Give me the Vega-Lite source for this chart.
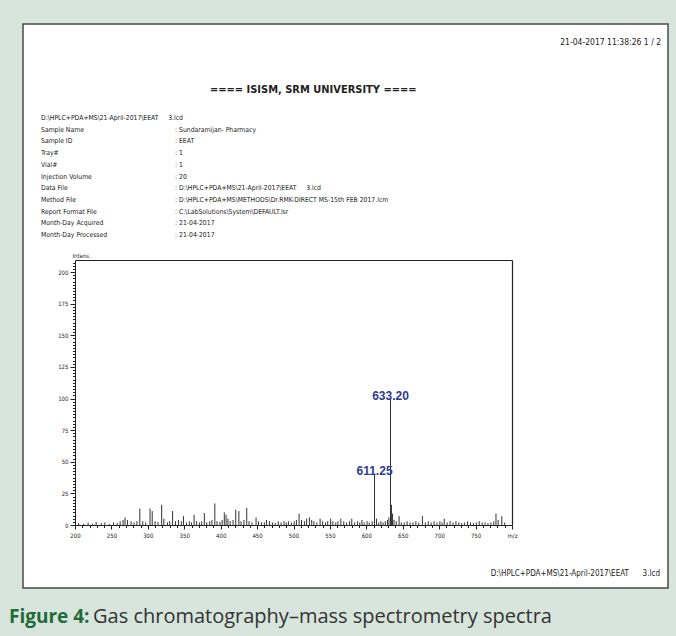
{
  "$schema": "https://vega.github.io/schema/vega-lite/v6.json",
  "width": 645,
  "height": 564,
  "autosize": "none",
  "padding": {"left": 23, "top": 24, "right": 8, "bottom": 48},
  "background": "#d7e5dc",
  "view": {"fill": "#ffffff", "fillOpacity": 1, "stroke": "#4a4a4a", "strokeWidth": 1.5},
  "config": {
    "view": {"fill": "#ffffff", "fillOpacity": 1, "stroke": "#4a4a4a", "strokeWidth": 1.5},
    "style": {"cell": {"fill": "#ffffff", "fillOpacity": 1}},
    "font": "DejaVu Sans Condensed, sans-serif"
  },
  "datasets": {
    "peaks": [
      {"mz": 205, "intensity": 1.5}, {"mz": 212, "intensity": 1}, {"mz": 218, "intensity": 2}, {"mz": 224, "intensity": 1},
      {"mz": 229, "intensity": 2.5}, {"mz": 236, "intensity": 1.5}, {"mz": 241, "intensity": 2}, {"mz": 247, "intensity": 1},
      {"mz": 253, "intensity": 2}, {"mz": 258, "intensity": 1.5}, {"mz": 262, "intensity": 3}, {"mz": 266, "intensity": 4},
      {"mz": 268.7, "intensity": 6}, {"mz": 272, "intensity": 4}, {"mz": 277, "intensity": 3}, {"mz": 281, "intensity": 2},
      {"mz": 285, "intensity": 3}, {"mz": 289, "intensity": 13}, {"mz": 293, "intensity": 3}, {"mz": 297, "intensity": 2},
      {"mz": 303, "intensity": 13}, {"mz": 306, "intensity": 11}, {"mz": 310, "intensity": 3}, {"mz": 314, "intensity": 2.5},
      {"mz": 319, "intensity": 16}, {"mz": 322, "intensity": 5}, {"mz": 327, "intensity": 2}, {"mz": 330, "intensity": 3},
      {"mz": 334, "intensity": 11}, {"mz": 338, "intensity": 3}, {"mz": 342, "intensity": 4}, {"mz": 346, "intensity": 3},
      {"mz": 349, "intensity": 7}, {"mz": 353, "intensity": 2}, {"mz": 357, "intensity": 3}, {"mz": 360, "intensity": 2},
      {"mz": 363.5, "intensity": 8}, {"mz": 367, "intensity": 3}, {"mz": 371, "intensity": 2}, {"mz": 374, "intensity": 3},
      {"mz": 377.6, "intensity": 9.5}, {"mz": 381, "intensity": 2}, {"mz": 385, "intensity": 3}, {"mz": 388, "intensity": 4},
      {"mz": 392, "intensity": 17}, {"mz": 395, "intensity": 3}, {"mz": 399, "intensity": 2.5}, {"mz": 402, "intensity": 4},
      {"mz": 405, "intensity": 10}, {"mz": 407.4, "intensity": 8}, {"mz": 410, "intensity": 5}, {"mz": 413, "intensity": 3},
      {"mz": 417, "intensity": 4}, {"mz": 420.7, "intensity": 12}, {"mz": 425, "intensity": 11}, {"mz": 428, "intensity": 3},
      {"mz": 432, "intensity": 4}, {"mz": 435.8, "intensity": 13.5}, {"mz": 439, "intensity": 3}, {"mz": 443, "intensity": 2},
      {"mz": 448.6, "intensity": 6}, {"mz": 452, "intensity": 3}, {"mz": 456, "intensity": 2}, {"mz": 460, "intensity": 2},
      {"mz": 463, "intensity": 4}, {"mz": 467, "intensity": 3}, {"mz": 471, "intensity": 2}, {"mz": 475, "intensity": 1.5},
      {"mz": 479, "intensity": 3}, {"mz": 483, "intensity": 2}, {"mz": 487, "intensity": 3}, {"mz": 490, "intensity": 2},
      {"mz": 493, "intensity": 3}, {"mz": 497, "intensity": 2}, {"mz": 501, "intensity": 3}, {"mz": 504, "intensity": 4},
      {"mz": 507.7, "intensity": 9}, {"mz": 511, "intensity": 4}, {"mz": 515, "intensity": 3}, {"mz": 518, "intensity": 5},
      {"mz": 521.8, "intensity": 6}, {"mz": 525, "intensity": 4}, {"mz": 528, "intensity": 3}, {"mz": 532, "intensity": 2},
      {"mz": 536.5, "intensity": 5}, {"mz": 540, "intensity": 3}, {"mz": 544, "intensity": 2}, {"mz": 547, "intensity": 3},
      {"mz": 551, "intensity": 5}, {"mz": 554, "intensity": 3}, {"mz": 558, "intensity": 2}, {"mz": 561, "intensity": 3},
      {"mz": 565, "intensity": 5}, {"mz": 569, "intensity": 3}, {"mz": 573, "intensity": 2}, {"mz": 577, "intensity": 3},
      {"mz": 580, "intensity": 5}, {"mz": 584, "intensity": 2}, {"mz": 588, "intensity": 3}, {"mz": 591, "intensity": 2},
      {"mz": 594, "intensity": 4}, {"mz": 597, "intensity": 2}, {"mz": 601, "intensity": 3}, {"mz": 604, "intensity": 2},
      {"mz": 608, "intensity": 3}, {"mz": 611.25, "intensity": 40}, {"mz": 614, "intensity": 5}, {"mz": 617, "intensity": 2},
      {"mz": 620, "intensity": 3}, {"mz": 623, "intensity": 2}, {"mz": 626, "intensity": 3}, {"mz": 629, "intensity": 4},
      {"mz": 631, "intensity": 6}, {"mz": 633.2, "intensity": 100}, {"mz": 634.5, "intensity": 16}, {"mz": 636, "intensity": 9},
      {"mz": 638, "intensity": 4}, {"mz": 641, "intensity": 3}, {"mz": 645, "intensity": 7}, {"mz": 648, "intensity": 2},
      {"mz": 652, "intensity": 2}, {"mz": 656, "intensity": 3}, {"mz": 660, "intensity": 2}, {"mz": 664, "intensity": 2},
      {"mz": 668, "intensity": 3}, {"mz": 672, "intensity": 2}, {"mz": 677, "intensity": 7}, {"mz": 681, "intensity": 2},
      {"mz": 685, "intensity": 3}, {"mz": 689, "intensity": 2}, {"mz": 693, "intensity": 3}, {"mz": 697, "intensity": 2},
      {"mz": 701, "intensity": 3}, {"mz": 704, "intensity": 2}, {"mz": 707, "intensity": 5}, {"mz": 711, "intensity": 2},
      {"mz": 715, "intensity": 3}, {"mz": 719, "intensity": 2}, {"mz": 723, "intensity": 3}, {"mz": 727, "intensity": 2},
      {"mz": 731, "intensity": 1.5}, {"mz": 735, "intensity": 2}, {"mz": 739, "intensity": 3}, {"mz": 743, "intensity": 2},
      {"mz": 747, "intensity": 1.5}, {"mz": 751, "intensity": 2}, {"mz": 755, "intensity": 3}, {"mz": 759, "intensity": 2},
      {"mz": 763, "intensity": 2}, {"mz": 767, "intensity": 1.5}, {"mz": 771, "intensity": 2}, {"mz": 775, "intensity": 3},
      {"mz": 778, "intensity": 9}, {"mz": 781, "intensity": 4}, {"mz": 786, "intensity": 7}, {"mz": 790, "intensity": 2}
    ],
    "labels": [
      {"mz": 611.25, "intensity": 40, "label": "611.25"},
      {"mz": 633.2, "intensity": 100, "label": "633.20"}
    ],
    "meta": [
      {"row": "file", "col": "label", "text": "D:\\HPLC+PDA+MS\\21-April-2017\\EEAT\u00a0\u00a0\u00a0\u00a0 3.lcd"},
      {"row": "Sample Name", "col": "label", "text": "Sample Name"},
      {"row": "Sample Name", "col": "value", "text": ": Sundaramijan- Pharmacy"},
      {"row": "Sample ID", "col": "label", "text": "Sample ID"},
      {"row": "Sample ID", "col": "value", "text": ": EEAT"},
      {"row": "Tray#", "col": "label", "text": "Tray#"},
      {"row": "Tray#", "col": "value", "text": ": 1"},
      {"row": "Vial#", "col": "label", "text": "Vial#"},
      {"row": "Vial#", "col": "value", "text": ": 1"},
      {"row": "Injection Volume", "col": "label", "text": "Injection Volume"},
      {"row": "Injection Volume", "col": "value", "text": ": 20"},
      {"row": "Data File", "col": "label", "text": "Data File"},
      {"row": "Data File", "col": "value", "text": ": D:\\HPLC+PDA+MS\\21-April-2017\\EEAT\u00a0\u00a0\u00a0\u00a0 3.lcd"},
      {"row": "Method File", "col": "label", "text": "Method File"},
      {"row": "Method File", "col": "value", "text": ": D:\\HPLC+PDA+MS\\METHODS\\Dr.RMK-DIRECT MS-15th FEB 2017.lcm"},
      {"row": "Report Format File", "col": "label", "text": "Report Format File"},
      {"row": "Report Format File", "col": "value", "text": ": C:\\LabSolutions\\System\\DEFAULT.lsr"},
      {"row": "Month-Day Acquired", "col": "label", "text": "Month-Day Acquired"},
      {"row": "Month-Day Acquired", "col": "value", "text": ": 21-04-2017"},
      {"row": "Month-Day Processed", "col": "label", "text": "Month-Day Processed"},
      {"row": "Month-Day Processed", "col": "value", "text": ": 21-04-2017"}
    ]
  },
  "layer": [
    {
      "layer": [
        {
          "data": {"name": "peaks"},
          "mark": {"type": "rule", "color": "#333333", "strokeWidth": 1},
          "encoding": {
            "x": {
              "field": "mz", "type": "quantitative",
              "scale": {"domain": [200, 800], "range": [52, 489], "nice": false, "zero": false},
              "axis": {
                "orient": "bottom", "offset": -63, "grid": false, "title": null,
                "values": [200,210,220,230,240,250,260,270,280,290,300,310,320,330,340,350,360,370,380,390,400,410,420,430,440,450,460,470,480,490,500,510,520,530,540,550,560,570,580,590,600,610,620,630,640,650,660,670,680,690,700,710,720,730,740,750,760,770,780,790,800],
                "labelExpr": "datum.value == 800 ? 'm/z' : (datum.value % 50 == 0 ? datum.label : '')",
                "labelFontSize": 6, "labelColor": "#222", "labelPadding": 3, "labelFlush": false, "labelOverlap": false,
                "domainColor": "#222", "domainWidth": 1, "tickColor": "#222",
                "tickSize": {"condition": {"test": "datum.value % 50 == 0", "value": 4}, "value": 2.5}
              }
            },
            "y": {
              "field": "intensity", "type": "quantitative",
              "scale": {"domain": [0, 209.5], "range": [501, 236], "nice": false},
              "axis": {
                "orient": "left", "offset": -52, "grid": false,
                "values": [0,2.5,5,7.5,10,12.5,15,17.5,20,22.5,25,27.5,30,32.5,35,37.5,40,42.5,45,47.5,50,52.5,55,57.5,60,62.5,65,67.5,70,72.5,75,77.5,80,82.5,85,87.5,90,92.5,95,97.5,100,102.5,105,107.5,110,112.5,115,117.5,120,122.5,125,127.5,130,132.5,135,137.5,140,142.5,145,147.5,150,152.5,155,157.5,160,162.5,165,167.5,170,172.5,175,177.5,180,182.5,185,187.5,190,192.5,195,197.5,200,202.5,205,207.5],
                "labelExpr": "datum.value % 25 == 0 ? datum.label : ''",
                "labelFontSize": 6, "labelColor": "#222", "labelPadding": 2, "labelOverlap": false, "labelFlush": false,
                "domainColor": "#222", "domainWidth": 1, "tickColor": "#222",
                "tickSize": {"condition": {"test": "datum.value % 25 == 0", "value": 5}, "value": 2.5},
                "title": "Intens.", "titleAngle": 0, "titleFontSize": 6, "titleFontWeight": "normal",
                "titleColor": "#222", "titleAlign": "left", "titleBaseline": "bottom", "titleX": -3, "titleY": 234
              }
            },
            "y2": {"datum": 0}
          }
        },
        {
          "data": {"name": "labels"},
          "mark": {"type": "text", "font": "Liberation Sans", "fontWeight": "bold", "fontSize": 12, "color": "#2f3a96", "baseline": "bottom", "dy": 4},
          "encoding": {
            "x": {"field": "mz", "type": "quantitative",
              "axis": {"orient": "top", "offset": -236, "ticks": false, "labels": false, "grid": false, "title": null, "domainColor": "#222", "domainWidth": 1.2}},
            "y": {"field": "intensity", "type": "quantitative",
              "axis": {"orient": "right", "offset": -156, "ticks": false, "labels": false, "grid": false, "title": null, "domainColor": "#222", "domainWidth": 1.2}},
            "text": {"field": "label"}
          }
        }
      ],
      "resolve": {"axis": {"x": "independent", "y": "independent"}}
    },
    {
      "data": {"name": "meta"},
      "mark": {"type": "text", "align": "left", "baseline": "middle", "fontSize": 6.8, "color": "#222"},
      "encoding": {
        "x": {"field": "col", "type": "nominal", "scale": {"type": "point", "domain": ["label", "value"], "range": [18, 152], "padding": 0}, "axis": null},
        "y": {"field": "row", "type": "nominal", "sort": null, "scale": {"type": "point", "range": [94, 211], "padding": 0}, "axis": null},
        "text": {"field": "text"}
      }
    },
    {
      "data": {"values": [{"text": "21-04-2017 11:38:26 1 / 2"}]},
      "mark": {"type": "text", "align": "right", "baseline": "middle", "fontSize": 8.5, "color": "#222", "x": {"expr": "width - 7"}, "y": 18},
      "encoding": {"text": {"field": "text"}}
    },
    {
      "data": {"values": [{"text": "==== ISISM, SRM UNIVERSITY ===="}]},
      "mark": {"type": "text", "align": "center", "baseline": "middle", "fontSize": 11, "fontWeight": "bold", "color": "#222", "x": {"expr": "width * 0.45"}, "y": 66},
      "encoding": {"text": {"field": "text"}}
    },
    {
      "data": {"values": [{"text": "D:\\HPLC+PDA+MS\\21-April-2017\\EEAT\u00a0\u00a0\u00a0\u00a0\u00a0 3.lcd"}]},
      "mark": {"type": "text", "align": "right", "baseline": "middle", "fontSize": 8, "color": "#222", "x": {"expr": "width - 8"}, "y": 550},
      "encoding": {"text": {"field": "text"}}
    },
    {
      "data": {"values": [{"text": "Figure 4:"}]},
      "mark": {"type": "text", "align": "left", "baseline": "middle", "font": "Open Sans", "fontSize": 19, "fontWeight": "bold", "color": "#1f6b3a", "x": -14, "y": 593},
      "encoding": {"text": {"field": "text"}}
    },
    {
      "data": {"values": [{"text": "Gas chromatography–mass spectrometry spectra"}]},
      "mark": {"type": "text", "align": "left", "baseline": "middle", "font": "Open Sans", "fontSize": 20, "color": "#333333", "x": 70, "y": 593},
      "encoding": {"text": {"field": "text"}}
    }
  ],
  "resolve": {"scale": {"x": "independent", "y": "independent"}}
}
